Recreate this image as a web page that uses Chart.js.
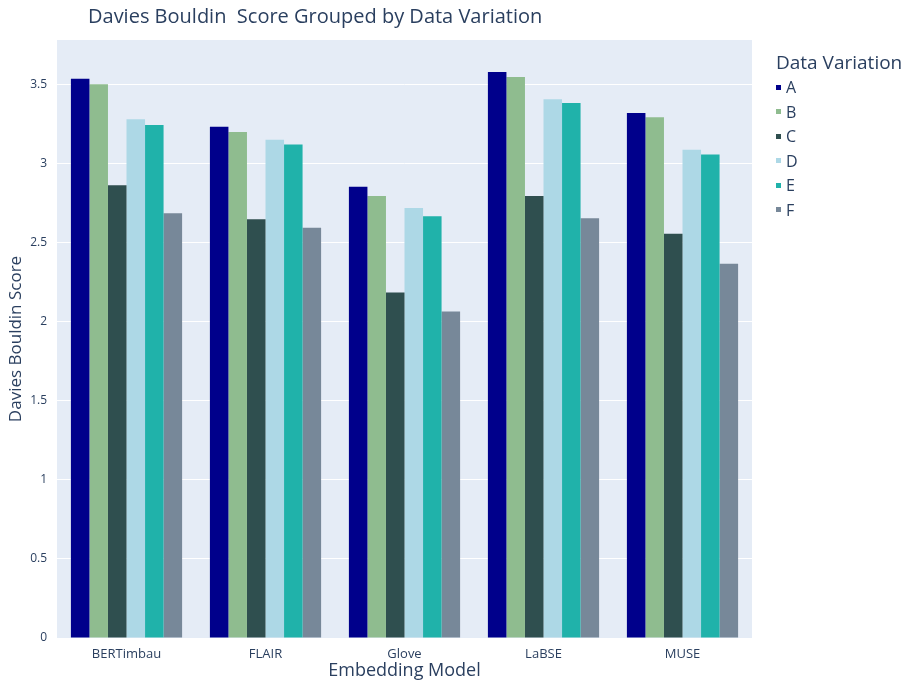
<!DOCTYPE html>
<html>
<head>
<meta charset="utf-8">
<script src="https://cdn.jsdelivr.net/npm/chart.js@4.4.0/dist/chart.umd.min.js"></script>
<style>
  html, body { margin: 0; padding: 0; background: #fff; }
  #wrap { position: relative; width: 912px; height: 685px; font-family: 'Open Sans', sans-serif; color: #2a3f5f; }
  #title { position: absolute; left: 88px; top: 2px; font-size: 20px; white-space: pre; }
  #legend { position: absolute; left: 776px; top: 49px; }
  #legend .lt { font-size: 19px; margin-bottom: 0px; }
  #legend .item { font-size: 16px; height: 24.5px; line-height: 24.5px; }
  #legend .sw { display: inline-block; width: 5px; height: 5px; margin: 0 5px 3px 0; vertical-align: middle; }
</style>
</head>
<body>
<div id="wrap">
  <canvas id="chart" width="912" height="685"></canvas>
  <div id="title">Davies Bouldin  Score Grouped by Data Variation</div>
  <div id="legend"><div class="lt">Data Variation</div></div>
</div>
<script>
const models = ['BERTimbau', 'FLAIR', 'Glove', 'LaBSE', 'MUSE'];
const variations = ['A', 'B', 'C', 'D', 'E', 'F'];
const colors = ['#00008B', '#8FBC8F', '#2F4F4F', '#ADD8E6', '#20B2AA', '#778899'];
const scoreA = [3.535, 3.232, 2.853, 3.578, 3.318];
const scoreB = [3.500, 3.198, 2.794, 3.546, 3.291];
const scoreC = [2.862, 2.647, 2.184, 2.794, 2.556];
const scoreD = [3.279, 3.150, 2.718, 3.405, 3.087];
const scoreE = [3.243, 3.119, 2.666, 3.382, 3.056];
const scoreF = [2.685, 2.594, 2.064, 2.653, 2.365];
const scores = [scoreA, scoreB, scoreC, scoreD, scoreE, scoreF];

// legende en HTML (texte réel)
const legend = document.getElementById('legend');
variations.forEach((v, i) => {
  const d = document.createElement('div');
  d.className = 'item';
  d.innerHTML = '<span class="sw" style="background:' + colors[i] + '"></span>' + v;
  legend.appendChild(d);
});

const ctx = document.getElementById('chart').getContext('2d');
new Chart(ctx, {
  type: 'bar',
  data: {
    labels: models,
    datasets: variations.map((v, i) => ({
      label: v,
      data: scores[i],
      backgroundColor: colors[i],
      borderWidth: 0,
      categoryPercentage: 0.8,
      barPercentage: 1.0
    }))
  },
  plugins: [{
    id: 'plotBg',
    beforeDraw(chart) {
      const a = chart.chartArea;
      chart.ctx.save();
      chart.ctx.fillStyle = '#E5ECF6';
      chart.ctx.fillRect(a.left, a.top, a.right - a.left, a.bottom - a.top);
      chart.ctx.restore();
    }
  }],
  options: {
    responsive: false,
    animation: false,
    layout: { padding: { top: 40, right: 160, left: 0, bottom: 0 } },
    plugins: {
      legend: { display: false },
      title: { display: false },
      tooltip: { enabled: false }
    },
    scales: {
      x: {
        grid: { display: false },
        border: { display: false },
        ticks: { color: '#2a3f5f', font: { family: "'Open Sans', sans-serif", size: 13 }, padding: 0 },
        title: {
          display: true,
          text: 'Embedding Model',
          color: '#2a3f5f',
          font: { family: "'Open Sans', sans-serif", size: 18 },
          padding: { top: 0, bottom: 3 }
        },
        afterFit(scale) { scale.height = 47; }
      },
      y: {
        min: 0,
        max: 3.78,
        grid: { color: '#ffffff', lineWidth: 1, drawTicks: false },
        border: { display: false },
        ticks: {
          stepSize: 0.5,
          color: '#2a3f5f',
          padding: 10,
          font: { family: "'Open Sans', sans-serif", size: 12 },
          callback: v => String(v)
        },
        afterBuildTicks(scale) {
          scale.ticks = scale.ticks.filter(t => Math.abs(t.value * 2 - Math.round(t.value * 2)) < 1e-6);
        },
        title: {
          display: true,
          text: 'Davies Bouldin Score',
          color: '#2a3f5f',
          font: { family: "'Open Sans', sans-serif", size: 17 },
          padding: { top: 6, bottom: 2 }
        },
        afterFit(scale) { scale.width = 57; }
      }
    }
  }
});
</script>
</body>
</html>
